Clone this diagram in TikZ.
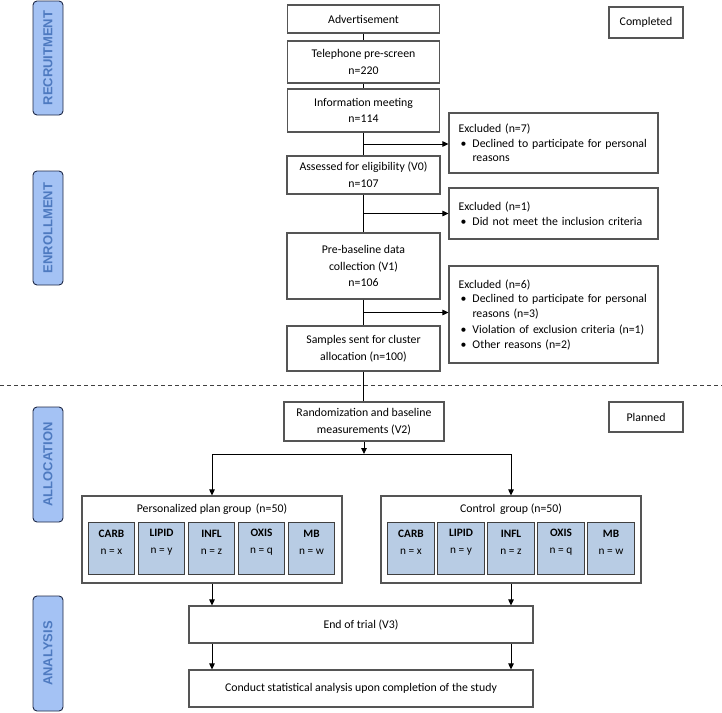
\documentclass[tikz,border=0pt]{standalone}
\usepackage{fontspec}
\setmainfont{Carlito}
\newfontfamily\labfont{Liberation Sans}
\usetikzlibrary{arrows.meta,calc}
\definecolor{sidefill}{RGB}{164,194,244}
\definecolor{sidedraw}{RGB}{30,40,70}
\definecolor{sidetext}{RGB}{78,122,192}
\definecolor{subfill}{RGB}{184,204,228}
\definecolor{boxdraw}{RGB}{85,85,85}
\newcommand\fmain{\fontsize{11.8}{16.7}\selectfont}
\newcommand\fexc{\fontsize{11.8}{14.7}\selectfont}
\newcommand\fsub{\fontsize{11.3}{17}\selectfont}
\newcommand\bul{\hspace*{2pt}\makebox[12pt][l]{\textbullet}}
\newcommand\ind{\hspace*{14pt}}
\begin{document}
\begin{tikzpicture}[x=1pt,y=-1pt,
  box/.style={draw=boxdraw,line width=1.1pt,fill=white,inner sep=0pt,align=center,font=\fmain},
  excbox/.style={draw=boxdraw,line width=1.1pt,fill=white,inner sep=0pt,minimum width=209pt,text width=190pt,align=left,font=\fexc},
  subbox/.style={draw=black!75,line width=1pt,fill=subfill,inner sep=0pt,minimum width=46.5pt,minimum height=52pt},
  subtxt/.style={inner sep=0pt,align=center,font=\fsub},
  side/.style={draw=sidedraw,line width=0.9pt,fill=sidefill,rounded corners=4pt,rotate=90,minimum width=114pt,minimum height=30pt,inner sep=0pt,font=\labfont\bfseries\fontsize{13}{15}\selectfont,text=sidetext},
  conn/.style={draw=black,line width=0.9pt},
  arr/.style={conn,-{Triangle[length=6pt,width=5.5pt]}},
  sep/.style={draw=black!75,line width=0.8pt,dash pattern=on 4pt off 3pt}]
\useasboundingbox (0,0) rectangle (722,712);
% side labels
\node[side] (rec) at (48,58) {RECRUITMENT};
\node[side] (enr) at (48,228) {ENROLLMENT};
\node[side,minimum width=115pt] (all) at (48,464.5) {ALLOCATION};
\node[side,minimum width=115pt] (ana) at (48,653.5) {ANALYSIS};
% status boxes
\node[box,minimum width=74pt,minimum height=31pt] (comp) at (646,22.5) {Completed};
\node[box,minimum width=74pt,minimum height=30pt] (plan) at (646,417) {Planned};
% main column
\node[box,minimum width=152pt,minimum height=28pt] (adv) at (363.5,19) {Advertisement};
\node[box,minimum width=152pt,minimum height=42pt] (tel) at (363.5,62) {Telephone pre-screen\\n=220};
\node[box,minimum width=152pt,minimum height=43pt] (info) at (363.5,110.5) {Information meeting\\n=114};
\node[box,minimum width=153pt,minimum height=38pt] (elig) at (363.5,175) {Assessed for eligibility (V0)\\n=107};
\node[box,minimum width=153pt,minimum height=66pt] (pre) at (363.5,266) {Pre-baseline data\\collection (V1)\\n=106};
\node[box,minimum width=153pt,minimum height=45pt] (samp) at (363.5,348.5) {Samples sent for cluster\\allocation (n=100)};
\node[box,minimum width=160pt,minimum height=39pt] (rand) at (364,421.5) {Randomization and baseline\\measurements (V2)};
% exclusion boxes
\node[excbox,minimum height=60pt] (exc1) at (553.5,143) {Excluded (n=7)\\\bul Declined to participate for personal\\\ind reasons};
\node[excbox,minimum height=51pt] (exc2) at (553.5,213.5) {Excluded (n=1)\\\bul Did not meet the inclusion criteria};
\node[excbox,minimum height=97pt] (exc3) at (553.5,314.5) {Excluded (n=6)\\\bul Declined to participate for personal\\\ind reasons (n=3)\\[1.2pt]\bul Violation of exclusion criteria (n=1)\\\bul Other reasons (n=2)};
% separator
\coordinate (dl) at (0,385);
\coordinate (dr) at (722,385);
\draw[sep] (dl) -- (dr);
% groups
\node[box,minimum width=260pt,minimum height=87pt] (pers) at (212,539.5) {};
\node[inner sep=0pt,font=\fmain] (perst) at (212,509) {Personalized plan group\ \,(n=50)};
\node[box,minimum width=260pt,minimum height=87pt] (ctrl) at (511,539.5) {};
\node[inner sep=0pt,font=\fmain] (ctrlt) at (511,509) {Control\ \,group (n=50)};
% sub boxes
\foreach \nm/\lab/\val [count=\i from 0] in {carb/CARB/x,lipid/LIPID/y,infl/INFL/z,oxis/OXIS/q,mb/MB/w}{
  \node[subbox] (p\nm) at (111.5+50*\i,548) {};
  \node[subtxt] (p\nm t) at ($(p\nm.center)+(0,-5.5)$) {\textbf{\lab}\\n = \val};
  \node[subbox] (c\nm) at (411+50*\i,548) {};
  \node[subtxt] (c\nm t) at ($(c\nm.center)+(0,-5.5)$) {\textbf{\lab}\\n = \val};
}
% analysis
\node[box,minimum width=344pt,minimum height=37pt] (end) at (361,624.5) {End of trial (V3)};
\node[box,minimum width=344pt,minimum height=37pt] (cond) at (361,688.5) {Conduct statistical analysis upon completion of the study};
% connectors main column
\draw[conn] (adv) -- (tel);
\draw[conn] (tel) -- (info);
\draw[conn] (info) -- (elig);
\draw[conn] (elig) -- (pre);
\draw[conn] (pre) -- (samp);
\draw[conn] (samp.south) -- (samp.south |- rand.north);
% branches to exclusions
\coordinate (b1) at ($(info.south)!0.5!(elig.north)$);
\coordinate (b2) at ($(elig.south)!0.5!(pre.north)$);
\coordinate (b3) at ($(pre.south)!0.5!(samp.north)$);
\draw[arr] (b1) -- (b1 -| exc1.west);
\draw[arr] (b2) -- (b2 -| exc2.west);
\draw[arr] (b3) -- (b3 -| exc3.west);
% allocation split
\coordinate (split) at (364,454);
\draw[arr] (rand.south) -- (split);
\draw[arr] (split) -| (pers.north);
\draw[arr] (split) -| (ctrl.north);
% to end of trial
\draw[arr] (pers.south) -- (pers.south |- end.north);
\draw[arr] (ctrl.south) -- (ctrl.south |- end.north);
\draw[arr] (end.south -| pers.south) -- (cond.north -| pers.south);
\draw[arr] (end.south -| ctrl.south) -- (cond.north -| ctrl.south);
\end{tikzpicture}
\end{document}
